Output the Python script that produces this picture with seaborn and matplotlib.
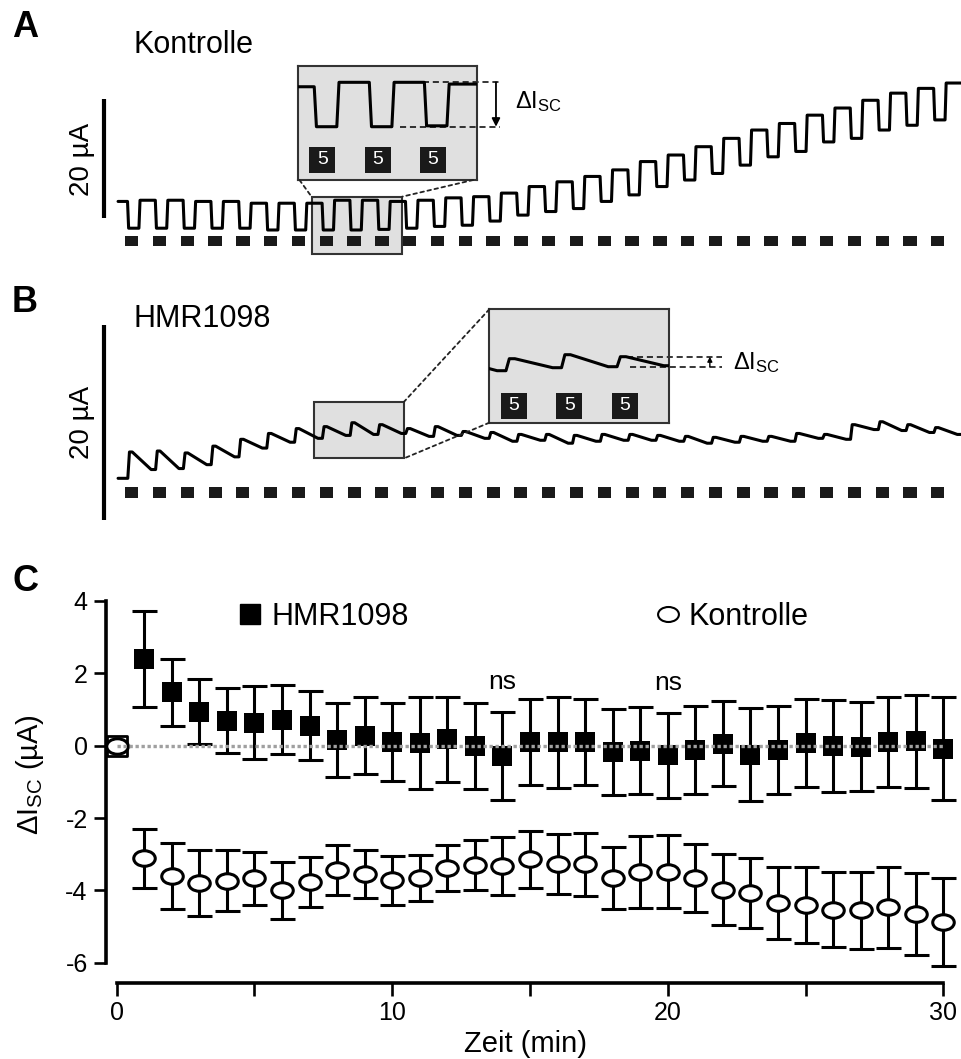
import numpy as np
import pandas as pd
import matplotlib.pyplot as plt
import seaborn as sns
from matplotlib.path import Path
from matplotlib.patches import Rectangle, ConnectionPatch
from matplotlib.lines import Line2D

sns.set_theme(style="ticks")
plt.rcParams['font.family'] = ['Liberation Sans', 'DejaVu Sans']
plt.rcParams['axes.unicode_minus'] = False
for key in ('text.color', 'axes.labelcolor', 'xtick.color', 'ytick.color', 'axes.edgecolor'):
    plt.rcParams[key] = 'black'

# A: Kontrolle trace, per stimulation cycle (uA): level before pulse, level during pulse
kontrolle_high = [4.8, 5.0, 5.0, 4.8, 4.8, 4.5, 4.5, 4.5, 5.0, 5.0, 4.8, 5.0, 5.4, 5.6, 6.2,
                  7.3, 8.1, 9.0, 10.1, 11.5, 12.6, 14.0, 15.4, 16.8, 17.9, 19.3, 20.5, 21.8, 23.0, 23.8]
kontrolle_low = [0.3, 0.3, 0.3, 0.3, 0.3, 0.0, 0.0, 0.0, 0.0, 0.1, 0.3, 0.6, 0.8, 1.5, 2.5,
                 3.1, 3.6, 4.8, 5.9, 7.3, 8.4, 9.5, 10.9, 12.3, 13.2, 14.8, 15.4, 16.8, 17.6, 18.5]
kontrolle_end = 24.7

# B: HMR1098 trace, per cycle (uA): spike peak and level after decay
hmr_peak = [2.7, 2.8, 2.6, 3.3, 4.0, 4.6, 5.1, 5.3, 5.7, 5.5, 5.1, 5.3, 4.8, 4.7, 4.5,
            4.5, 4.4, 4.5, 4.5, 4.4, 4.3, 4.2, 4.3, 4.3, 4.6, 4.5, 5.5, 5.8, 5.5, 5.2]
hmr_trough = [0.9, 1.0, 1.4, 2.2, 3.1, 3.7, 4.1, 4.4, 4.5, 4.6, 4.3, 4.4, 4.1, 3.8, 3.9,
              3.6, 3.8, 3.9, 3.9, 3.8, 3.6, 3.7, 3.8, 3.8, 4.1, 4.0, 5.0, 4.9, 4.7, 4.5]
stim_index = np.arange(30)
stim_label = "5"

# C: delta Isc over time
time = np.arange(31)
hmr_mean = [0, 2.40, 1.47, 0.94, 0.69, 0.63, 0.72, 0.55, 0.16, 0.27, 0.10, 0.06, 0.17, -0.01,
            -0.28, 0.11, 0.09, 0.10, -0.18, -0.14, -0.27, -0.12, 0.05, -0.25, -0.13, 0.08,
            -0.01, -0.03, 0.09, 0.12, -0.08]
hmr_sem = [0, 1.32, 0.92, 0.90, 0.89, 1.01, 0.95, 0.96, 1.03, 1.06, 1.08, 1.27, 1.17, 1.19,
           1.21, 1.19, 1.25, 1.18, 1.18, 1.20, 1.17, 1.22, 1.17, 1.28, 1.22, 1.21, 1.28,
           1.23, 1.24, 1.29, 1.41]
ctrl_mean = [0, -3.11, -3.60, -3.79, -3.73, -3.66, -4.00, -3.77, -3.43, -3.55, -3.72, -3.65,
             -3.38, -3.30, -3.33, -3.14, -3.28, -3.28, -3.65, -3.50, -3.48, -3.66, -3.98,
             -4.08, -4.34, -4.41, -4.53, -4.55, -4.47, -4.65, -4.87]
ctrl_sem = [0, 0.82, 0.90, 0.92, 0.84, 0.73, 0.78, 0.69, 0.69, 0.67, 0.68, 0.64, 0.64, 0.68,
            0.80, 0.78, 0.83, 0.87, 0.85, 0.99, 1.00, 0.95, 0.98, 0.97, 0.99, 1.05, 1.03,
            1.06, 1.11, 1.13, 1.22]
ns_times = [14, 20]

W, H = 962, 1059
fig = plt.figure(figsize=(W / 100, H / 100), dpi=100)


def px_rect(x0, y0, x1, y1):
    return [x0 / W, 1 - y1 / H, (x1 - x0) / W, (y1 - y0) / H]


def fig_text(x, y, s, **kw):
    fig.text(x / W, 1 - y / H, s, **kw)


def square_trace(high, low, end):
    xs, ys = [-0.49], [high[0]]
    for k in range(len(high)):
        nxt = high[k + 1] if k + 1 < len(high) else end
        xs += [k - 0.15, k - 0.11, k + 0.26, k + 0.30]
        ys += [high[k], low[k], low[k], nxt]
    xs.append(len(high) + 0.5)
    ys.append(end)
    return pd.DataFrame({'t': xs, 'i': ys})


def spike_trace(peak, trough):
    xs, ys = [-0.49], [0.0]
    prev = 0.0
    for k in range(len(peak)):
        xs += [k - 0.14, k - 0.08, k + 0.02, k + 0.70]
        ys += [prev, peak[k], peak[k], trough[k]]
        prev = trough[k]
    xs.append(len(peak) + 0.5)
    ys.append(prev)
    return pd.DataFrame({'t': xs, 'i': ys})


def style_inset(ax):
    ax.set_facecolor('#e0e0e0')
    ax.set_xticks([])
    ax.set_yticks([])
    for sp in ax.spines.values():
        sp.set_visible(True)
        sp.set_color('#333333')
        sp.set_linewidth(1.5)


def stim_boxes(ax, yfrac):
    lo, hi = ax.get_xlim()
    vis = [p for p in stim_index if lo < p < hi]
    ax.scatter(vis, [yfrac] * len(vis), marker='s', s=370, color='#1a1a1a', linewidths=0,
               transform=ax.get_xaxis_transform(), zorder=3)
    for p in vis:
        ax.text(p, yfrac, stim_label, color='white', fontsize=14, ha='center', va='center',
                transform=ax.get_xaxis_transform(), zorder=4)


def connect(ax_in, corner, ax_main, point):
    con = ConnectionPatch(xyA=corner, coordsA=ax_in.transAxes, xyB=point, coordsB=ax_main.transData,
                          linestyle=(0, (2, 2)), color='#222222', lw=1.3)
    fig.add_artist(con)


trace_kw = dict(color='black', lw=2.2, sort=False, estimator=None, legend=False)

# ---------------- Panel A ----------------
axA = fig.add_axes(px_rect(100, 60, 962, 262))
axA.axis('off')
axA.set_xlim(-1.14, 29.87)
axA.set_ylim(-5.38, 28.57)
dfA = square_trace(kontrolle_high, kontrolle_low, kontrolle_end)
sns.lineplot(data=dfA, x='t', y='i', ax=axA, zorder=3, **trace_kw)
axA.bar(stim_index, 1.8, width=0.48, bottom=-2.75, color='#1a1a1a', linewidth=0, zorder=2.5)
boxA = (6.47, -4.03, 3.26, 9.63)
axA.add_patch(Rectangle(boxA[:2], boxA[2], boxA[3], fc='#e0e0e0', ec='#333333', lw=1.5, zorder=0.5))
axA.plot([-1.0, -1.0], [2, 22], color='black', lw=3, solid_capstyle='butt', clip_on=False)

axAi = fig.add_axes(px_rect(297.7, 65.7, 476.7, 180))
style_inset(axAi)
sns.lineplot(data=dfA, x='t', y='i', ax=axAi, zorder=3, **trace_kw)
axAi.set_xlim(6.55, 9.80)
axAi.set_ylim(-6.0, 6.87)
axAi.set_xlabel('')
axAi.set_ylabel('')
stim_boxes(axAi, 0.175)
hiA, loA = kontrolle_high[9], kontrolle_low[8]
axAi.plot([8.46, 10.22], [hiA, hiA], color='black', lw=1.1, ls=(0, (4, 2.5)), clip_on=False)
axAi.plot([8.41, 10.22], [loA, loA], color='black', lw=1.1, ls=(0, (4, 2.5)), clip_on=False)
axAi.annotate('', xy=(10.15, loA), xytext=(10.15, hiA), annotation_clip=False,
              arrowprops=dict(arrowstyle='-|>', color='black', lw=1.3, mutation_scale=12,
                              shrinkA=0, shrinkB=0))
axAi.text(10.49, (hiA + loA) / 2 + 0.3, r'$\mathregular{\Delta I_{SC}}$', fontsize=17,
          ha='left', va='center', clip_on=False)
connect(axAi, (0.01, 0), axA, (boxA[0], boxA[1] + boxA[3]))
connect(axAi, (0.98, 0), axA, (boxA[0] + boxA[2], boxA[1] + boxA[3]))

# ---------------- Panel B ----------------
axB = fig.add_axes(px_rect(100, 290, 962, 530))
axB.axis('off')
axB.set_xlim(-1.14, 29.87)
axB.set_ylim(-5.30, 19.31)
dfB = spike_trace(hmr_peak, hmr_trough)
sns.lineplot(data=dfB, x='t', y='i', ax=axB, zorder=3, **trace_kw)
axB.bar(stim_index, 1.13, width=0.47, bottom=-2.0, color='#1a1a1a', linewidth=0, zorder=2.5)
boxB = (6.56, 2.05, 3.24, 5.81)
axB.add_patch(Rectangle(boxB[:2], boxB[2], boxB[3], fc='#e0e0e0', ec='#333333', lw=1.5, zorder=0.5))
axB.plot([-1.0, -1.0], [-4.28, 15.72], color='black', lw=3, solid_capstyle='butt', clip_on=False)

axBi = fig.add_axes(px_rect(489.3, 309.3, 669.3, 422.7))
style_inset(axBi)
sns.lineplot(data=dfB, x='t', y='i', ax=axBi, zorder=3, **trace_kw)
axBi.set_xlim(6.56, 9.80)
axBi.set_ylim(-1.1, 10.24)
axBi.set_xlabel('')
axBi.set_ylabel('')
stim_boxes(axBi, 0.15)
hiB, loB = hmr_peak[9], hmr_trough[8]
axBi.plot([9.03, 10.74], [hiB, hiB], color='black', lw=1.1, ls=(0, (4, 2.5)), clip_on=False)
axBi.plot([9.09, 10.74], [loB, loB], color='black', lw=1.1, ls=(0, (4, 2.5)), clip_on=False)
axBi.annotate('', xy=(10.53, hiB), xytext=(10.53, loB), annotation_clip=False,
              arrowprops=dict(arrowstyle='-|>', color='black', lw=1.0, mutation_scale=7,
                              shrinkA=0, shrinkB=0))
axBi.text(10.95, (hiB + loB) / 2 - 0.1, r'$\mathregular{\Delta I_{SC}}$', fontsize=17,
          ha='left', va='center', clip_on=False)
connect(axBi, (0, 1), axB, (boxB[0] + boxB[2], boxB[1] + boxB[3]))
connect(axBi, (0, 0), axB, (boxB[0] + boxB[2], boxB[1]))

# ---------------- Panel C ----------------
axC = fig.add_axes(px_rect(105.7, 590, 962, 982.7))
axC.set_xlim(-0.40, 30.68)
axC.set_ylim(-6.55, 4.30)
err_kw = dict(fmt='none', ecolor='black', elinewidth=2.2, capsize=9, capthick=2.2, zorder=2)
axC.errorbar(time, ctrl_mean, yerr=ctrl_sem, **err_kw)
axC.errorbar(time, hmr_mean, yerr=hmr_sem, **err_kw)

circ = Path.unit_circle()
ellipse = Path(circ.vertices * np.array([1.0, 0.72]), circ.codes)

sns.scatterplot(x=time[1:], y=hmr_mean[1:], marker='s', s=225, color='black', linewidth=0,
                ax=axC, zorder=3)
sns.scatterplot(x=time[:1], y=hmr_mean[:1], marker='s', s=225, color='white', edgecolor='black',
                linewidth=2, ax=axC, zorder=3)
sns.scatterplot(x=time, y=ctrl_mean, marker=ellipse, s=240, color='white', edgecolor='black',
                linewidth=2.2, ax=axC, zorder=4)
axC.hlines(0, time[0], time[-1], colors='#a0a0a0', linestyles=(0, (1, 0.8)), lw=2.4, zorder=5)

for t in ns_times:
    axC.text(t, hmr_mean[t] + hmr_sem[t] + 0.5, 'ns', ha='center', va='bottom', fontsize=19)

sns.despine(ax=axC)
axC.spines['left'].set_bounds(-6, 4)
axC.spines['bottom'].set_bounds(0, 30)
for sp in ('left', 'bottom'):
    axC.spines[sp].set_linewidth(2.6)
    axC.spines[sp].set_color('black')
axC.set_yticks(range(-6, 5, 2))
axC.set_xticks([0, 10, 20, 30])
axC.set_xticks([5, 15, 25], minor=True)
axC.tick_params(which='both', direction='out', length=9, width=1.9, color='black',
                labelcolor='black', labelsize=18, pad=4)
axC.set_xlabel('Zeit (min)', fontsize=21)
axC.set_ylabel(r'$\mathregular{\Delta I_{SC}}$ (µA)', fontsize=21)
axC.xaxis.set_label_coords(0.49, -0.12)
axC.yaxis.set_label_coords(-0.07, 0.53)

h_hmr = Line2D([], [], marker='s', ls='none', color='black', markersize=15)
h_ctrl = Line2D([], [], marker=ellipse, ls='none', mfc='white', mec='black', mew=1.5, markersize=15)
leg_kw = dict(loc='center left', frameon=False, fontsize=22, handlelength=0.8,
              handletextpad=0.3, borderpad=0, borderaxespad=0)
leg1 = axC.legend(handles=[h_hmr], labels=['HMR1098'],
                  bbox_to_anchor=((237.8 - 105.7) / 856.3, 0.931), **leg_kw)
axC.add_artist(leg1)
axC.legend(handles=[h_ctrl], labels=['Kontrolle'],
           bbox_to_anchor=((655.3 - 105.7) / 856.3, 0.931), **leg_kw)

# ---------------- Texts ----------------
fig_text(12, 36.7, 'A', fontsize=26, fontweight='bold', va='baseline')
fig_text(12, 311.7, 'B', fontsize=26, fontweight='bold', va='baseline')
fig_text(12, 591, 'C', fontsize=26, fontweight='bold', va='baseline')
fig_text(133, 53.3, 'Kontrolle', fontsize=22, va='baseline')
fig_text(133, 326.7, 'HMR1098', fontsize=22, va='baseline')
fig_text(82, 159, '20 µA', fontsize=20, rotation=90, ha='center', va='center')
fig_text(82, 422, '20 µA', fontsize=20, rotation=90, ha='center', va='center')

fig.savefig('out.png', dpi=100)
